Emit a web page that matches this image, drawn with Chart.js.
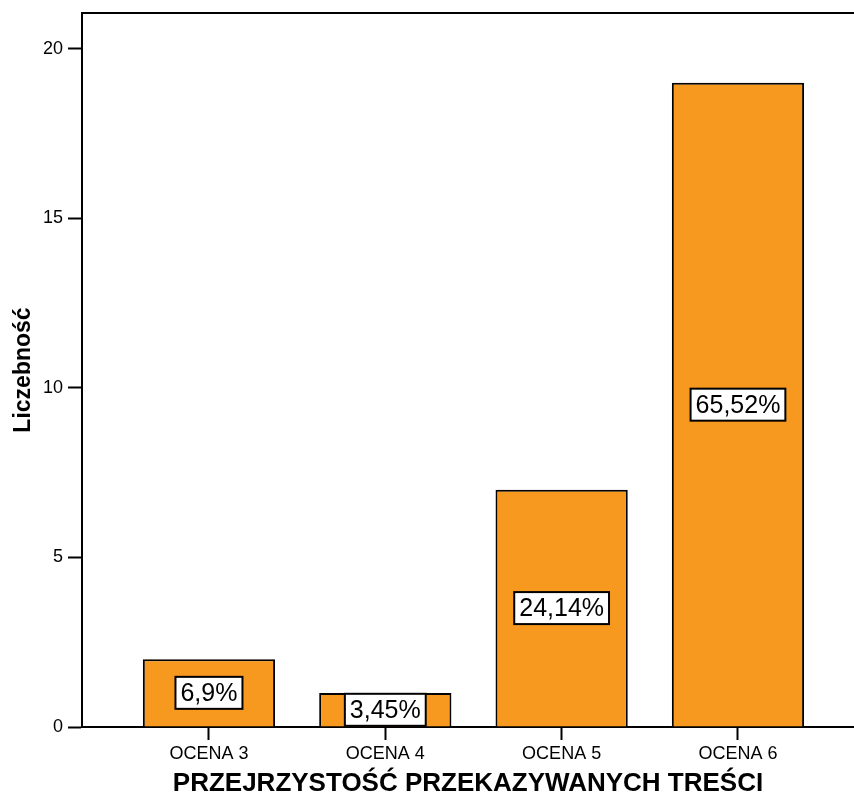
<!DOCTYPE html>
<html>
<head>
<meta charset="utf-8">
<script src="https://cdn.jsdelivr.net/npm/chart.js@4/dist/chart.umd.min.js"></script>
<style>
    html, body { margin: 0; padding: 0; background: #fff; overflow: hidden; }
    #wrap { width: 854px; height: 796px; }
</style>
</head>
<body>
<div id="wrap"><canvas id="chart" width="854" height="796"></canvas></div>
<script>
// Chart data
const categories = ['OCENA 3', 'OCENA 4', 'OCENA 5', 'OCENA 6'];
const counts = [2, 1, 7, 19];
const percentLabels = ['6,9%', '3,45%', '24,14%', '65,52%'];
const yTicks = [0, 5, 10, 15, 20];

const FONT = '"Liberation Sans", Arial, Helvetica, sans-serif';

/**
 * Draw the top frame line and the white percentage boxes on the bars
 */
const boxLabels = {
    id: 'boxLabels',
    afterDatasetsDraw(chart) {
        const { ctx, chartArea } = chart;
        ctx.save();

        // Top frame line
        ctx.strokeStyle = '#000';
        ctx.lineWidth = 2;
        ctx.beginPath();
        ctx.moveTo(chartArea.left, chartArea.top);
        ctx.lineTo(chartArea.right, chartArea.top);
        ctx.stroke();

        // Percentage boxes centred on each bar
        ctx.font = '25px ' + FONT;
        ctx.textAlign = 'center';
        ctx.textBaseline = 'middle';
        chart.getDatasetMeta(0).data.forEach((bar, i) => {
            const { x, y, base } = bar.getProps(['x', 'y', 'base'], true);
            const cy = (y + base) / 2;
            const text = percentLabels[i];
            const w = ctx.measureText(text).width + 10;
            const h = 32;
            ctx.fillStyle = '#fff';
            ctx.fillRect(x - w / 2, cy - h / 2, w, h);
            ctx.lineWidth = 2;
            ctx.strokeStyle = '#000';
            ctx.strokeRect(x - w / 2, cy - h / 2, w, h);
            ctx.fillStyle = '#000';
            ctx.fillText(text, x, cy + 1);
        });
        ctx.restore();
    }
};

new Chart(document.getElementById('chart'), {
    type: 'bar',
    data: {
        datasets: [{
            data: counts.map((v, i) => ({ x: i, y: v })),
            backgroundColor: '#F7991F',
            borderColor: '#000',
            borderWidth: 2,
            barPercentage: 0.75,
            categoryPercentage: 1
        }]
    },
    options: {
        responsive: false,
        animation: false,
        layout: { padding: { top: 13, right: 0, left: 0, bottom: 0 } },
        plugins: {
            legend: { display: false },
            tooltip: { enabled: false }
        },
        scales: {
            x: {
                type: 'linear',
                offset: false,
                min: -0.72,
                max: 3.658,
                afterBuildTicks: scale => {
                    scale.ticks = categories.map((c, i) => ({ value: i }));
                },
                afterFit: scale => {
                    scale.height = 69;
                    scale.paddingLeft = 0;
                    scale.paddingRight = 0;
                },
                grid: {
                    offset: false,
                    drawOnChartArea: false,
                    drawTicks: true,
                    tickLength: 13,
                    tickWidth: 2,
                    tickColor: '#000'
                },
                border: { display: true, color: '#000', width: 2 },
                ticks: {
                    color: '#000',
                    padding: 3,
                    maxRotation: 0,
                    font: { family: FONT, size: 18 },
                    callback: value => categories[value]
                },
                title: {
                    display: true,
                    text: 'PRZEJRZYSTOŚĆ PRZEKAZYWANYCH TREŚCI',
                    color: '#000',
                    font: { family: FONT, size: 26, weight: 'bold' },
                    padding: { top: 0, bottom: -3 }
                }
            },
            y: {
                min: 0,
                max: 21.06,
                afterBuildTicks: scale => {
                    scale.ticks = yTicks.map(v => ({ value: v }));
                },
                afterFit: scale => {
                    scale.width = 82;
                    scale.paddingTop = 0;
                    scale.paddingBottom = 0;
                },
                grid: {
                    drawOnChartArea: false,
                    drawTicks: true,
                    tickLength: 14,
                    tickWidth: 2,
                    tickColor: '#000'
                },
                border: { display: true, color: '#000', width: 2 },
                ticks: {
                    color: '#000',
                    padding: 5,
                    font: { family: FONT, size: 18 }
                },
                title: {
                    display: true,
                    text: 'Liczebność',
                    color: '#000',
                    font: { family: FONT, size: 23, weight: 'bold' },
                    padding: { top: 10, bottom: 0 }
                }
            }
        }
    },
    plugins: [boxLabels]
});
</script>
</body>
</html>
